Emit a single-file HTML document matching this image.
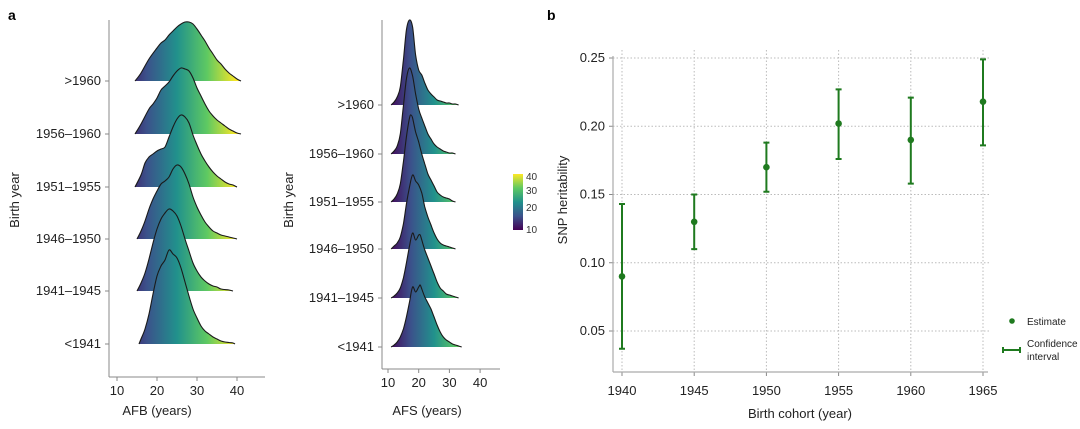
<!DOCTYPE html>
<html><head><meta charset="utf-8"><style>
html,body{margin:0;padding:0;background:#fff;}
svg{display:block;font-family:"Liberation Sans",Arial,sans-serif;}
</style></head><body>
<svg id="fig" width="1080" height="429" viewBox="0 0 1080 429" xmlns="http://www.w3.org/2000/svg">
<defs>
<linearGradient id="vir1" gradientUnits="userSpaceOnUse" x1="117" y1="0" x2="237" y2="0">
<stop offset="0" stop-color="#440154"/><stop offset="0.25" stop-color="#3b528b"/><stop offset="0.5" stop-color="#21918c"/><stop offset="0.75" stop-color="#5ec962"/><stop offset="1" stop-color="#fde725"/></linearGradient>
<linearGradient id="vir2" gradientUnits="userSpaceOnUse" x1="388" y1="0" x2="480" y2="0">
<stop offset="0" stop-color="#440154"/><stop offset="0.25" stop-color="#3b528b"/><stop offset="0.5" stop-color="#21918c"/><stop offset="0.75" stop-color="#5ec962"/><stop offset="1" stop-color="#fde725"/></linearGradient>
<linearGradient id="virV" x1="0" y1="1" x2="0" y2="0">
<stop offset="0" stop-color="#440154"/><stop offset="0.25" stop-color="#3b528b"/><stop offset="0.5" stop-color="#21918c"/><stop offset="0.75" stop-color="#5ec962"/><stop offset="1" stop-color="#fde725"/></linearGradient>
</defs>
<text x="8" y="20" font-size="14" font-weight="bold">a</text>
<text x="547" y="20" font-size="14" font-weight="bold">b</text>
<g id="gA1"></g>
<g id="gA2"></g>
<g>
<rect x="513" y="174" width="10" height="56" fill="url(#virV)"/>
<text x="526" y="180" font-size="10" fill="#333">40</text>
<text x="526" y="194" font-size="10" fill="#333">30</text>
<text x="526" y="211" font-size="10" fill="#333">20</text>
<text x="526" y="233" font-size="10" fill="#333">10</text>
</g>
<g id="gB"></g>
</svg>
<script>
// ---- Panel a data ----
const groups = [">1960","1956\u20131960","1951\u20131955","1946\u20131950","1941\u20131945","<1941"];
const afbAges = [
 [14.5,16,18,20,21,22,23,24,25,26,27,28,29,30,31,32,33,34,35,36,37,38,39,40,41],
 [14.5,16,18,19,20,21,22,23,24,25,26,27,28,29,30,31,32,33,34,35,36,37,38,39,40,41],
 [14.5,16,17,18,19,20,21,22,23,24,25,26,27,28,29,30,31,32,33,34,35,36,37,38,39,40],
 [15,16,17,18,19,20,21,22,23,24,25,26,27,28,29,30,31,32,33,34,35,36,37,38,39,40],
 [15,16,17,18,19,20,21,22,23,24,25,26,27,28,29,30,31,32,33,34,35,36,38,39],
 [15.5,16,17,18,19,20,21,22,23,24,25,26,27,28,29,30,31,32,33,34,35,36,37,38,39,39.5]
];
const afbDens = [
 [0,8,22,33,38,41,46,50,54,57,59,59,57,52,46,40,33,27,21,17,12,8,5,2,0],
 [0,10,25,30,36,44,48,52,58,63,66,65,63,56,46,38,30,23,18,14,11,8,5,3,1,0],
 [0,12,24,30,33,36,38,40,50,60,68,72,70,64,52,42,33,26,20,15,11,8,5,3,2,0],
 [0,8,18,30,40,48,55,58,62,70,74,72,65,55,42,32,24,17,12,8,6,4,3,2,1,0],
 [0,8,18,32,48,62,72,78,82,80,75,65,52,40,28,20,14,10,7,5,4,2,1,0],
 [0,5,15,30,50,68,78,84,94,90,86,76,62,48,35,26,18,13,10,7,5,3,2,1.5,1,0]
];
const afsAges = [
 [11,12,13,14,15,16,17,18,19,20,21,22,23,24,25,26,27,28,29,30,31,32,33],
 [11,12,13,14,15,16,17,18,19,20,21,22,23,24,25,26,27,28,29,30,31,32],
 [11,12,13,14,15,16,17,17.5,18,19,20,21,22,23,24,25,26,27,28,29,30,31,32],
 [11,12,13,14,15,16,17,18,19,20,21,22,23,24,25,26,27,28,29,30,31,32],
 [11,12,13,14,15,16,17,18,19,20,20.5,21,22,23,24,25,26,27,28,29,30,31,32,33],
 [11,12,13,14,15,16,17,18,19,20,20.5,21,22,23,24,25,26,27,28,29,30,31,32,33,34]
];
const afsDens = [
 [0,3,8,18,45,75,85,78,50,35,30,22,15,11,8,5,4,3,2,2,1,1,0],
 [0,3,8,20,48,75,86,78,60,45,36,28,20,15,10,7,5,3,2,1,1,0],
 [0,3,8,18,40,65,84,87,84,70,60,48,38,28,22,16,10,7,5,4,3,1,0],
 [0,3,6,12,25,45,62,74,68,64,56,42,32,24,16,10,6,4,3,2,1,0],
 [0,2,5,10,20,35,52,65,58,63,63,58,48,40,32,24,16,10,7,4,3,2,1,0],
 [0,2,5,10,18,30,45,60,55,60,62,58,50,44,38,30,22,15,10,7,5,3,2,1,0]
];
const xTicksA = [10,20,30,40];

// ---- Panel b data ----
const cohorts = [1940,1945,1950,1955,1960,1965];
const estimates = [0.09,0.13,0.17,0.202,0.19,0.218];
const ciLow = [0.037,0.11,0.152,0.176,0.158,0.186];
const ciHigh = [0.143,0.15,0.188,0.227,0.221,0.249];
const yTicksB = [0.05,0.10,0.15,0.20,0.25];
const xTicksB = [1940,1945,1950,1955,1960,1965];

const NS="http://www.w3.org/2000/svg";
function mk(parent,tag,attrs,text){const e=document.createElementNS(NS,tag);for(const k in attrs)e.setAttribute(k,attrs[k]);if(text!==undefined)e.textContent=text;parent.appendChild(e);return e;}
function smooth(pts){
  let d='M'+pts[0][0].toFixed(1)+','+pts[0][1].toFixed(1);
  for(let i=0;i<pts.length-1;i++){
    const p0=pts[Math.max(0,i-1)],p1=pts[i],p2=pts[i+1],p3=pts[Math.min(pts.length-1,i+2)];
    const c1x=p1[0]+(p2[0]-p0[0])/6,c1y=p1[1]+(p2[1]-p0[1])/6;
    const c2x=p2[0]-(p3[0]-p1[0])/6,c2y=p2[1]-(p3[1]-p1[1])/6;
    d+=`C${c1x.toFixed(1)},${c1y.toFixed(1)} ${c2x.toFixed(1)},${c2y.toFixed(1)} ${p2[0].toFixed(1)},${p2[1].toFixed(1)}`;
  }
  return d;
}

function ridge(g,cfg){
  const xs=a=>cfg.x0+(a-10)*cfg.k;
  let l=mk(g,'line',{x1:cfg.ax,y1:cfg.top,x2:cfg.ax,y2:cfg.bot,stroke:'#888','stroke-width':1});
  
  l=mk(g,'line',{x1:cfg.ax,y1:cfg.bot,x2:cfg.xend,y2:cfg.bot,stroke:'#888','stroke-width':1});
  
  xTicksA.forEach(t=>{
    const tk=mk(g,'line',{x1:xs(t),y1:cfg.bot,x2:xs(t),y2:cfg.bot+4,stroke:'#888'});
    
    const tx=mk(g,'text',{x:xs(t),y:cfg.bot+18,'font-size':13,'text-anchor':'middle',fill:'#222'},t);
    
  });
  const tt=mk(g,'text',{x:cfg.titleX,y:415,'font-size':13,'text-anchor':'middle',fill:'#222'},cfg.title);
  
  const yt=mk(g,'text',{x:0,y:0,'font-size':13,'text-anchor':'middle',fill:'#222',transform:`translate(${cfg.yTitleX},200) rotate(-90)`},'Birth year');
  
  groups.forEach((gname,i)=>{
    const base=cfg.bases[i];
    const tk=mk(g,'line',{x1:cfg.ax-4,y1:base,x2:cfg.ax,y2:base,stroke:'#888'});
    
    const lb=mk(g,'text',{x:cfg.ax-8,y:base+4,'font-size':13,'text-anchor':'end',fill:'#222'},gname);
    
  });
  groups.forEach((gname,i)=>{
    const base=cfg.bases[i],ages=cfg.ages[i],d=cfg.dens[i];
    const pts=ages.map((a,j)=>[xs(a),base-d[j]]);
    const top=smooth(pts);
    const fill=mk(g,'path',{d:top+`L${xs(ages[ages.length-1]).toFixed(1)},${base}L${xs(ages[0]).toFixed(1)},${base}Z`,fill:cfg.grad,stroke:'none'});
    
    const ln=mk(g,'path',{d:top,fill:'none',stroke:'#1a1a1a','stroke-width':1.1,'stroke-linejoin':'round'});
    
  });
}
ridge(document.getElementById('gA1'),{x0:117,k:4.0,ax:109,top:20,bot:377,xend:265,bases:[81,134,187,239,291,344],ages:afbAges,dens:afbDens,grad:'url(#vir1)',title:'AFB (years)',titleX:157,yTitleX:19});
ridge(document.getElementById('gA2'),{x0:388,k:3.07,ax:382,top:20,bot:369,xend:500,bases:[105,154,202,249,298,347],ages:afsAges,dens:afsDens,grad:'url(#vir2)',title:'AFS (years)',titleX:427,yTitleX:293});

// ---- Panel b ----
(function(){
  const g=document.getElementById('gB');
  const xB=v=>622+(v-1940)*(983-622)/25;
  const yB=v=>58+(0.25-v)*(331-58)/0.20;
  const green='#1f7a1f';
  yTicksB.forEach(t=>{
    const gl=mk(g,'line',{x1:613,y1:yB(t),x2:990,y2:yB(t),stroke:'#bbb','stroke-dasharray':'1.5,2'});
    
    const tk=mk(g,'line',{x1:609,y1:yB(t),x2:613,y2:yB(t),stroke:'#888'});
    
    const tx=mk(g,'text',{x:605,y:yB(t)+4,'font-size':13,'text-anchor':'end',fill:'#222'},t.toFixed(2));
    
  });
  xTicksB.forEach(t=>{
    const gl=mk(g,'line',{x1:xB(t),y1:50,x2:xB(t),y2:372,stroke:'#bbb','stroke-dasharray':'1.5,2'});
    
    const tk=mk(g,'line',{x1:xB(t),y1:372,x2:xB(t),y2:376,stroke:'#888'});
    
    const tx=mk(g,'text',{x:xB(t),y:395,'font-size':13,'text-anchor':'middle',fill:'#222'},t);
    
  });
  let l=mk(g,'line',{x1:613,y1:56,x2:613,y2:372,stroke:'#aaa','stroke-width':1.2});
  
  l=mk(g,'line',{x1:613,y1:372,x2:988,y2:372,stroke:'#aaa','stroke-width':1.2});
  
  let t=mk(g,'text',{x:800,y:418,'font-size':13,'text-anchor':'middle',fill:'#222'},'Birth cohort (year)');
  
  t=mk(g,'text',{x:0,y:0,'font-size':13,'text-anchor':'middle',fill:'#222',transform:'translate(567,200) rotate(-90)'},'SNP heritability');
  
  cohorts.forEach((c,i)=>{
    const x=xB(c);
    const eb=mk(g,'path',{d:`M${x},${yB(ciLow[i])}L${x},${yB(ciHigh[i])}M${x-3},${yB(ciLow[i])}L${x+3},${yB(ciLow[i])}M${x-3},${yB(ciHigh[i])}L${x+3},${yB(ciHigh[i])}`,stroke:green,'stroke-width':2,fill:'none'});
    
    const pt=mk(g,'circle',{cx:x,cy:yB(estimates[i]),r:3.3,fill:green});
    
  });
  const lg=mk(g,'g',{});
  
  const c1=mk(lg,'circle',{cx:1012,cy:321,r:2.8,fill:green});
  
  t=mk(lg,'text',{x:1027,y:325,'font-size':10,fill:'#222'},'Estimate');
  
  const c2=mk(lg,'path',{d:'M1003,350L1020,350M1003,347L1003,353M1020,347L1020,353',stroke:green,'stroke-width':2});
  
  t=mk(lg,'text',{x:1027,y:347,'font-size':10,fill:'#222'},'Confidence');
  
  t=mk(lg,'text',{x:1027,y:360,'font-size':10,fill:'#222'},'interval');
  
})();
</script>
</body></html>
